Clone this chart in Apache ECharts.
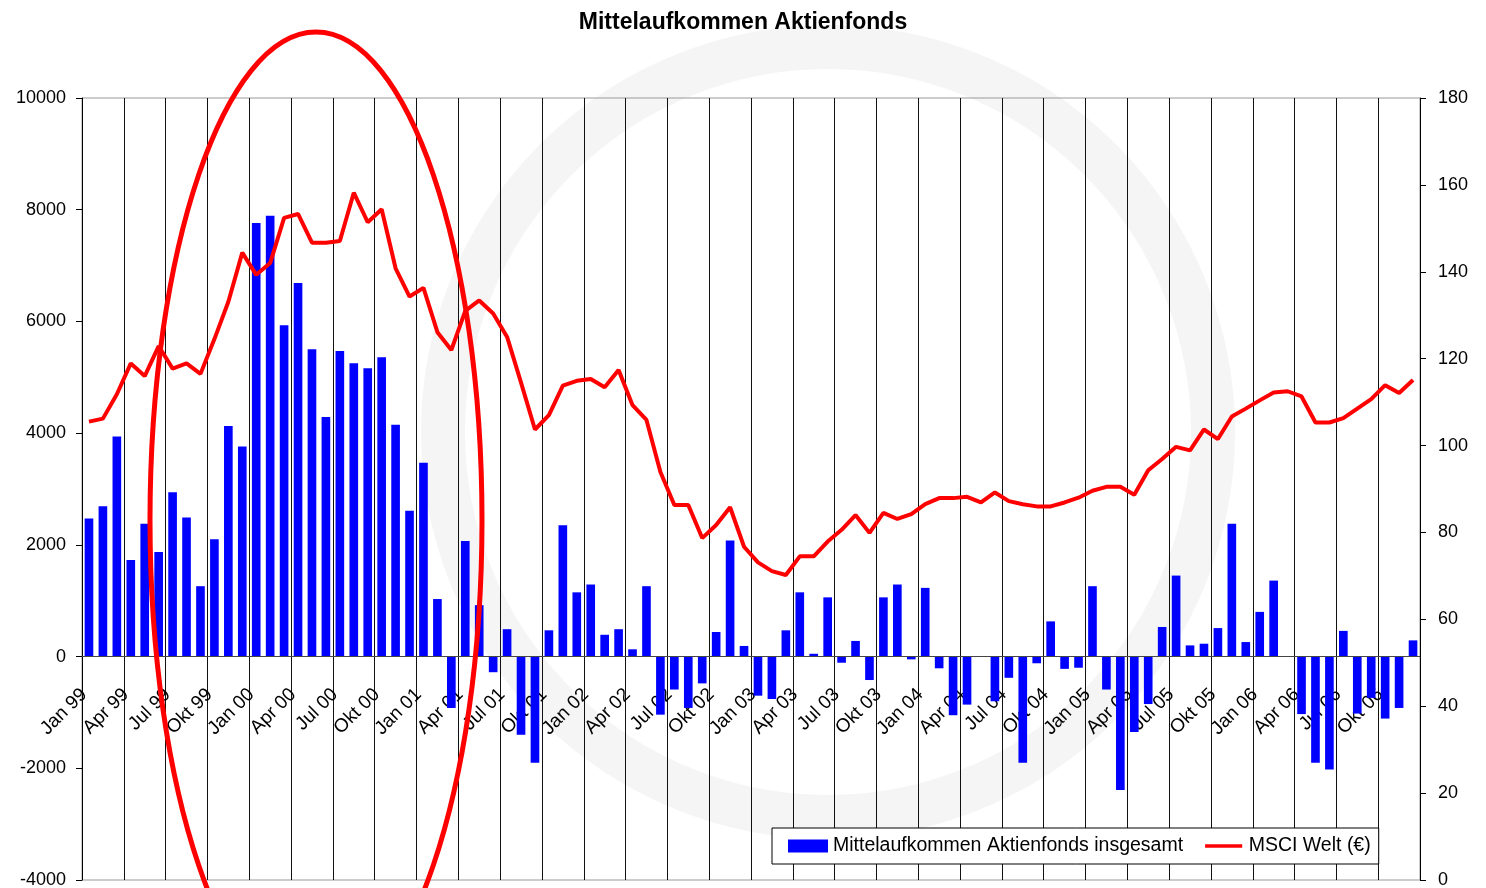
<!DOCTYPE html>
<html>
<head>
<meta charset="utf-8">
<script src="https://cdn.jsdelivr.net/npm/echarts/dist/echarts.min.js"></script>
<style>
  html, body { margin: 0; padding: 0; background: #fff; }
  #main { width: 1486px; height: 888px; }
</style>
</head>
<body>
<div id="main"></div>
<script>
// Monatsnamen / Jahre für die Kategorieachse (Jan 99 .. Dez 06)
var months = ['Jan', 'Feb', 'Mrz', 'Apr', 'Mai', 'Jun', 'Jul', 'Aug', 'Sep', 'Okt', 'Nov', 'Dez'];
var years = ['99', '00', '01', '02', '03', '04', '05', '06'];

// Mittelaufkommen Aktienfonds insgesamt (Mio. EUR), linke Achse
var fundFlows = [
    2470, 2690, 3940, 1730, 2380, 1870, 2940, 2490, 1260, 2100, 4130, 3760,
    7760, 7890, 5930, 6690, 5500, 4290, 5470, 5250, 5160, 5360, 4150, 2610,
    3470, 1030, -920, 2070, 920, -280, 490, -1400, -1900, 470, 2350, 1150,
    1290, 390, 490, 130, 1260, -1040, -590, -920, -480, 440, 2080, 190,
    -700, -760, 470, 1150, 50, 1060, -110, 280, -420, 1060, 1290, -50,
    1230, -210, -1050, -860, 0, -800, -380, -1900, -120, 630, -220, -200,
    1260, -590, -2390, -1350, -850, 530, 1450, 200, 230, 510, 2380, 260,
    800, 1360, 0, -1030, -1900, -2020, 460, -1020, -740, -1110, -920, 290
];

// MSCI Welt (EUR), rechte Achse
var msciWelt = [
    105.5, 106.2, 111.8, 118.9, 116.0, 122.9, 117.7, 118.9, 116.5, 124.5, 133.1, 144.4,
    139.3, 142.0, 152.4, 153.3, 146.7, 146.7, 147.1, 158.2, 151.4, 154.4, 140.8, 134.3,
    136.3, 126.1, 122.0, 131.0, 133.4, 130.4, 125.0, 114.5, 103.7, 107.0, 113.8, 114.9,
    115.3, 113.4, 117.4, 109.3, 105.9, 93.9, 86.3, 86.3, 78.7, 81.7, 85.8, 76.7,
    73.1, 71.1, 70.2, 74.5, 74.5, 77.9, 80.6, 84.0, 79.9, 84.5, 83.1, 84.2,
    86.5, 87.9, 87.9, 88.2, 86.9, 89.2, 87.2, 86.5, 86.0, 86.0, 86.9, 88.0,
    89.6, 90.5, 90.5, 88.7, 94.3, 96.9, 99.7, 98.9, 103.7, 101.5, 106.7, 108.5,
    110.4, 112.2, 112.5, 111.3, 105.3, 105.3, 106.3, 108.5, 110.7, 113.9, 112.1, 115.1
];

var categories = [];
years.forEach(function (y) {
    months.forEach(function (m) { categories.push(m + ' ' + y); });
});

var font = 'Liberation Sans, Arial, sans-serif';
// Legendensymbol "Linie": unsichtbare Eckpunkte halten die Box, dazwischen ein dünner Balken
var lineIcon = 'path://M0,0 M0,5 L40,5 L40,9 L0,9 Z M40,14';

var myChart = echarts.init(document.getElementById('main'), null, { renderer: 'canvas' });

var option = {
    backgroundColor: '#fff',
    animation: false,
    textStyle: { fontFamily: font },
    title: {
        text: 'Mittelaufkommen Aktienfonds',
        left: 'center',
        top: 6,
        textStyle: { fontSize: 23, fontWeight: 'bold', color: '#000', fontFamily: font }
    },
    legend: {
        left: 772,
        top: 828,
        padding: [8, 8, 8, 16],
        itemGap: 22,
        itemWidth: 40,
        itemHeight: 13,
        backgroundColor: '#fff',
        borderColor: '#000',
        borderWidth: 1,
        borderRadius: 0,
        textStyle: { fontSize: 19.5, color: '#000', fontFamily: font },
        data: [
            { name: 'Mittelaufkommen Aktienfonds insgesamt', icon: 'rect' },
            { name: 'MSCI Welt (€)', icon: lineIcon }
        ]
    },
    grid: {
        left: 82,
        right: 66,
        top: 98,
        bottom: 8,
        outerBoundsMode: 'none',
        containLabel: false,
        show: true,
        borderColor: '#999',
        borderWidth: 1,
        backgroundColor: 'transparent'
    },
    graphic: [
        {   // blasses Wasserzeichen im Hintergrund
            type: 'circle',
            z: -10,
            silent: true,
            shape: { cx: 828, cy: 432, r: 385 },
            style: { fill: 'none', stroke: '#f5f5f5', lineWidth: 44 }
        },
        {   // Hervorhebung (rote Ellipse)
            type: 'ellipse',
            z: 100,
            silent: true,
            shape: { cx: 316, cy: 520, rx: 166, ry: 488 },
            style: { fill: 'none', stroke: '#ff0000', lineWidth: 5 }
        }
    ],
    xAxis: {
        type: 'category',
        data: categories,
        boundaryGap: true,
        position: 'bottom',
        axisLine: { show: false, onZero: false },
        axisTick: { show: false },
        axisLabel: {
            interval: 2,
            rotate: 45,
            margin: 30,
            padding: [0, 7, 0, 0],
            fontSize: 19,
            color: '#000',
            fontFamily: font
        },
        splitLine: { show: true, interval: 2, lineStyle: { color: '#111', width: 1 } }
    },
    yAxis: [
        {
            type: 'value',
            min: -4000,
            max: 10000,
            interval: 2000,
            axisLine: { show: true, lineStyle: { color: '#000' } },
            axisTick: { show: true, length: 6, lineStyle: { color: '#000' } },
            axisLabel: {
                margin: 16, fontSize: 18, color: '#000', fontFamily: font,
                formatter: function (v) { return String(v); }
            },
            splitLine: { show: false }
        },
        {
            type: 'value',
            min: 0,
            max: 180,
            interval: 20,
            position: 'right',
            axisLine: { show: true, lineStyle: { color: '#000' } },
            axisTick: { show: true, length: 6, lineStyle: { color: '#000' } },
            axisLabel: {
                margin: 18, fontSize: 18, color: '#000', fontFamily: font,
                formatter: function (v) { return String(v); }
            },
            splitLine: { show: false }
        }
    ],
    series: [
        {
            name: 'Mittelaufkommen Aktienfonds insgesamt',
            type: 'bar',
            yAxisIndex: 0,
            data: fundFlows,
            barCategoryGap: '38%',
            itemStyle: { color: '#0000ff' },
            markLine: {
                silent: true,
                symbol: 'none',
                label: { show: false },
                lineStyle: { color: '#444', width: 1, type: 'solid' },
                emphasis: { disabled: true },
                data: [{ yAxis: 0 }]
            }
        },
        {
            name: 'MSCI Welt (€)',
            type: 'line',
            yAxisIndex: 1,
            data: msciWelt,
            symbol: 'none',
            smooth: false,
            z: 5,
            lineStyle: { color: '#ff0000', width: 4 },
            itemStyle: { color: '#ff0000' }
        }
    ]
};

myChart.setOption(option);

// Beschriftung der Monate an die Nulllinie der linken Achse setzen
var zeroPx = myChart.convertToPixel({ yAxisIndex: 0 }, 0);
var bottomPx = myChart.convertToPixel({ yAxisIndex: 0 }, -4000);
myChart.setOption({ xAxis: { axisLabel: { margin: -(bottomPx - zeroPx) + 30 } } });
</script>
</body>
</html>
